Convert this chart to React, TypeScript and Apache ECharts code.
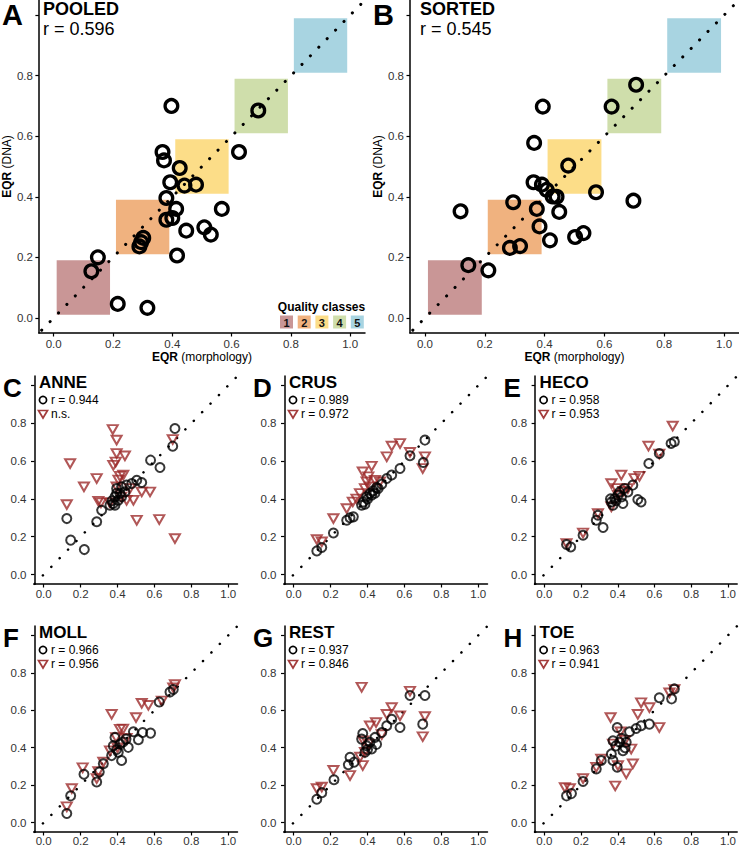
import React, { useEffect, useRef } from 'react';
import * as echarts from 'echarts';

const FONT = "'Liberation Sans', Arial, Helvetica, sans-serif";

// ---- ticks / scales ----
const xTickValues = [0, 0.2, 0.4, 0.6, 0.8, 1.0];
const yTickValues = [0, 0.2, 0.4, 0.6, 0.8, 1.0];
const yLabelValues = [0, 0.2, 0.4, 0.6, 0.8];
const axisMin = -0.05;
const axisMax = 1.05;
const identityLine = [[-0.05, -0.05], [1.05, 1.05]];

// ---- quality classes ----
const qualityClasses = ['1', '2', '3', '4', '5'];
const classColors = ['#c99696', '#f0b27f', '#fcdd88', '#cfdeab', '#a8d4e1'];
const classBounds = [[0.01, 0.19], [0.21, 0.39], [0.41, 0.59], [0.61, 0.79], [0.81, 0.99]];

// ---- panel A / B data ----
const pooledTitle = 'POOLED';
const pooledR = 'r = 0.596';
const pooledPoints = [
  [0.397, 0.70], [0.69, 0.685], [0.625, 0.548], [0.367, 0.548], [0.372, 0.52],
  [0.425, 0.495], [0.393, 0.448], [0.441, 0.437], [0.48, 0.44], [0.38, 0.396],
  [0.413, 0.36], [0.567, 0.36], [0.38, 0.324], [0.40, 0.33], [0.447, 0.288],
  [0.508, 0.299], [0.53, 0.275], [0.302, 0.264], [0.289, 0.236], [0.295, 0.25],
  [0.416, 0.206], [0.149, 0.20], [0.127, 0.154], [0.216, 0.046], [0.316, 0.033],
];
const sortedTitle = 'SORTED';
const sortedR = 'r = 0.545';
const sortedPoints = [
  [0.394, 0.698], [0.706, 0.77], [0.624, 0.698], [0.365, 0.578], [0.479, 0.503],
  [0.572, 0.415], [0.697, 0.387], [0.363, 0.448], [0.391, 0.44], [0.407, 0.423],
  [0.427, 0.401], [0.44, 0.40], [0.295, 0.382], [0.119, 0.352], [0.374, 0.36],
  [0.449, 0.35], [0.383, 0.302], [0.502, 0.267], [0.53, 0.28], [0.418, 0.256],
  [0.284, 0.231], [0.318, 0.237], [0.145, 0.174], [0.212, 0.157],
];

// ---- taxon panels ----
const taxaLetters = ['C', 'D', 'E', 'F', 'G', 'H'];
const taxaNames = ['ANNE', 'CRUS', 'HECO', 'MOLL', 'REST', 'TOE'];
const circleLabels = ['r = 0.944', 'r = 0.989', 'r = 0.958', 'r = 0.966', 'r = 0.937', 'r = 0.963'];
const triangleLabels = ['n.s.', 'r = 0.972', 'r = 0.953', 'r = 0.956', 'r = 0.846', 'r = 0.941'];

const anneCircles = [
  [0.711, 0.772], [0.699, 0.679], [0.579, 0.605], [0.63, 0.566], [0.531, 0.487], [0.504, 0.499],
  [0.477, 0.481], [0.449, 0.473], [0.422, 0.464], [0.395, 0.455], [0.413, 0.429], [0.386, 0.411],
  [0.404, 0.393], [0.377, 0.376], [0.386, 0.367], [0.422, 0.411], [0.359, 0.367], [0.44, 0.437],
  [0.395, 0.43], [0.37, 0.39], [0.314, 0.34], [0.287, 0.279], [0.125, 0.296], [0.146, 0.182], [0.22, 0.132],
];
const anneTriangles = [
  [0.374, 0.767], [0.395, 0.711], [0.395, 0.64], [0.44, 0.628], [0.377, 0.578], [0.39, 0.595],
  [0.143, 0.587], [0.287, 0.508], [0.218, 0.464], [0.125, 0.37], [0.296, 0.388], [0.31, 0.38],
  [0.431, 0.526], [0.413, 0.52], [0.395, 0.464], [0.486, 0.393], [0.531, 0.437], [0.576, 0.437],
  [0.504, 0.287], [0.626, 0.291], [0.711, 0.19], [0.699, 0.714], [0.449, 0.393], [0.359, 0.38],
  [0.467, 0.455], [0.405, 0.5], [0.42, 0.41],
];
const crusCircles = [
  [0.711, 0.711], [0.63, 0.628], [0.702, 0.593], [0.576, 0.561], [0.531, 0.526], [0.504, 0.508],
  [0.477, 0.478], [0.458, 0.455], [0.431, 0.443], [0.413, 0.429], [0.395, 0.411], [0.377, 0.384],
  [0.386, 0.372], [0.368, 0.367], [0.323, 0.305], [0.287, 0.287], [0.305, 0.30], [0.422, 0.42],
  [0.449, 0.46], [0.215, 0.22], [0.152, 0.143], [0.125, 0.125], [0.40, 0.40], [0.44, 0.43],
];
const crusTriangles = [
  [0.576, 0.693], [0.531, 0.679], [0.504, 0.623], [0.63, 0.646], [0.711, 0.623], [0.699, 0.561],
  [0.374, 0.543], [0.422, 0.573], [0.404, 0.517], [0.386, 0.455], [0.44, 0.499], [0.467, 0.49],
  [0.32, 0.384], [0.287, 0.349], [0.215, 0.296], [0.125, 0.185], [0.152, 0.173], [0.34, 0.40],
  [0.359, 0.429], [0.413, 0.464], [0.395, 0.49],
];
const hecoCircles = [
  [0.708, 0.702], [0.69, 0.693], [0.626, 0.64], [0.569, 0.587], [0.482, 0.473], [0.455, 0.437],
  [0.527, 0.384], [0.509, 0.397], [0.428, 0.376], [0.401, 0.42], [0.383, 0.402], [0.365, 0.384],
  [0.374, 0.367], [0.41, 0.437], [0.437, 0.455], [0.283, 0.287], [0.292, 0.314], [0.32, 0.249],
  [0.211, 0.208], [0.121, 0.159], [0.144, 0.146], [0.36, 0.40], [0.42, 0.41], [0.39, 0.39],
];
const hecoTriangles = [
  [0.699, 0.785], [0.567, 0.679], [0.419, 0.526], [0.365, 0.481], [0.518, 0.52], [0.491, 0.508],
  [0.455, 0.455], [0.392, 0.455], [0.365, 0.358], [0.292, 0.323], [0.211, 0.22], [0.121, 0.164],
  [0.626, 0.637], [0.40, 0.42], [0.43, 0.44],
];
const mollCircles = [
  [0.702, 0.711], [0.684, 0.697], [0.626, 0.644], [0.579, 0.478], [0.536, 0.481], [0.513, 0.443],
  [0.486, 0.485], [0.458, 0.402], [0.446, 0.446], [0.386, 0.455], [0.377, 0.411], [0.404, 0.376],
  [0.422, 0.332], [0.368, 0.358], [0.323, 0.314], [0.301, 0.27], [0.287, 0.217], [0.218, 0.258],
  [0.146, 0.143], [0.125, 0.049], [0.413, 0.42], [0.395, 0.39], [0.43, 0.43],
];
const mollTriangles = [
  [0.711, 0.737], [0.368, 0.578], [0.531, 0.637], [0.567, 0.626], [0.5, 0.561], [0.413, 0.499],
  [0.392, 0.455], [0.449, 0.45], [0.359, 0.384], [0.323, 0.323], [0.296, 0.273], [0.211, 0.293],
  [0.287, 0.235], [0.152, 0.182], [0.125, 0.085], [0.64, 0.65], [0.702, 0.72], [0.43, 0.50], [0.40, 0.40],
];
const restCircles = [
  [0.711, 0.679], [0.63, 0.679], [0.699, 0.526], [0.576, 0.508], [0.531, 0.552], [0.504, 0.517],
  [0.477, 0.481], [0.44, 0.455], [0.374, 0.476], [0.368, 0.446], [0.395, 0.411], [0.422, 0.393],
  [0.386, 0.376], [0.305, 0.349], [0.296, 0.309], [0.327, 0.323], [0.218, 0.229], [0.152, 0.16],
  [0.125, 0.125], [0.413, 0.429], [0.449, 0.418], [0.40, 0.39],
];
const restTriangles = [
  [0.368, 0.723], [0.63, 0.702], [0.531, 0.614], [0.504, 0.578], [0.446, 0.534], [0.413, 0.517],
  [0.711, 0.566], [0.699, 0.459], [0.576, 0.57], [0.377, 0.437], [0.386, 0.376], [0.374, 0.305],
  [0.305, 0.252], [0.215, 0.279], [0.125, 0.182], [0.152, 0.19], [0.404, 0.42], [0.477, 0.47], [0.36, 0.35],
];
const toeCircles = [
  [0.708, 0.714], [0.693, 0.661], [0.626, 0.667], [0.572, 0.526], [0.527, 0.517], [0.5, 0.503],
  [0.464, 0.485], [0.397, 0.508], [0.374, 0.437], [0.41, 0.429], [0.446, 0.429], [0.428, 0.384],
  [0.365, 0.367], [0.374, 0.332], [0.397, 0.296], [0.31, 0.332], [0.283, 0.287], [0.211, 0.22],
  [0.148, 0.155], [0.121, 0.143], [0.39, 0.41], [0.42, 0.45], [0.44, 0.40],
];
const toeTriangles = [
  [0.361, 0.561], [0.527, 0.64], [0.572, 0.614], [0.509, 0.578], [0.626, 0.508], [0.708, 0.711],
  [0.681, 0.693], [0.415, 0.485], [0.473, 0.393], [0.482, 0.314], [0.446, 0.261], [0.386, 0.196],
  [0.401, 0.305], [0.31, 0.34], [0.283, 0.296], [0.211, 0.235], [0.112, 0.187], [0.139, 0.182],
  [0.374, 0.42], [0.44, 0.44],
];
const taxaCircles = [anneCircles, crusCircles, hecoCircles, mollCircles, restCircles, toeCircles];
const taxaTriangles = [anneTriangles, crusTriangles, hecoTriangles, mollTriangles, restTriangles, toeTriangles];

// ---- styling ----
const TRI_COLOR = 'rgba(155,40,40,0.78)';
const CIRC_COLOR = 'rgba(0,0,0,0.78)';
const TRI_PATH = 'path://M0,0L10,0L5,8.66Z';

function buildOption() {
  const grids: any[] = [];
  const xAxes: any[] = [];
  const yAxes: any[] = [];
  const series: any[] = [];
  const graphics: any[] = [];

  const big = [
    { left: 35, top: 0, title: pooledTitle, r: pooledR, pts: pooledPoints, letter: 'A', legend: true, yGap: 20 },
    { left: 410, top: 0, title: sortedTitle, r: sortedR, pts: sortedPoints, letter: 'B', legend: false, yGap: 23 },
  ];

  const axisBase = (gi: number, small: boolean, isX: boolean, lastRow: boolean) => ({
    type: 'value',
    gridIndex: gi,
    min: axisMin,
    max: axisMax,
    axisLine: { show: true, onZero: false, lineStyle: { color: '#000', width: 1.5 } },
    axisTick: {
      show: true,
      customValues: isX ? xTickValues : yTickValues,
      length: 3.5,
      lineStyle: { color: '#000', width: 1.2 },
    },
    axisLabel: {
      customValues: isX ? xTickValues : yLabelValues,
      formatter: (v: number) => v.toFixed(1),
      color: '#333',
      fontSize: 11.5,
      fontFamily: FONT,
      margin: isX ? (small ? (lastRow ? 3 : 4) : 5) : small ? 8 : 6,
    },
    splitLine: { show: false },
  });

  big.forEach((p, i) => {
    grids.push({ left: p.left, top: p.top, width: 330, height: 333 });
    xAxes.push({
      ...axisBase(i, false, true, false),
      name: '{b|EQR} (morphology)',
      nameLocation: 'middle',
      nameGap: 18,
      nameTextStyle: {
        fontSize: 12, color: '#000', fontFamily: FONT,
        rich: { b: { fontSize: 12, fontWeight: 'bold', color: '#000', fontFamily: FONT } },
      },
    });
    yAxes.push({
      ...axisBase(i, false, false, false),
      name: '{b|EQR} (DNA)',
      nameLocation: 'middle',
      nameGap: p.yGap,
      nameTextStyle: {
        fontSize: 12, color: '#000', fontFamily: FONT,
        rich: { b: { fontSize: 12, fontWeight: 'bold', color: '#000', fontFamily: FONT } },
      },
    });
    series.push({
      type: 'custom',
      xAxisIndex: i,
      yAxisIndex: i,
      z: 1,
      silent: true,
      data: classBounds.map((b, k) => [b[0], b[0], b[1], b[1], k]),
      encode: { x: [0, 2], y: [1, 3] },
      renderItem: (params: any, api: any) => {
        const p0 = api.coord([api.value(0), api.value(1)]);
        const p1 = api.coord([api.value(2), api.value(3)]);
        return {
          type: 'rect',
          shape: { x: p0[0], y: p1[1], width: p1[0] - p0[0], height: p0[1] - p1[1] },
          style: { fill: classColors[api.value(4)] },
        };
      },
    });
    series.push({
      type: 'line',
      xAxisIndex: i,
      yAxisIndex: i,
      z: 2,
      silent: true,
      showSymbol: false,
      data: identityLine,
      lineStyle: { color: '#000', width: 3, type: [0.1, 11.9], cap: 'round', dashOffset: -4 },
    });
    series.push({
      type: 'scatter',
      xAxisIndex: i,
      yAxisIndex: i,
      z: 3,
      silent: true,
      symbol: 'circle',
      symbolSize: 12.7,
      data: p.pts,
      itemStyle: { color: 'rgba(0,0,0,0)', borderColor: '#000', borderWidth: 3.3, opacity: 1 },
    });
    const lx = i === 0 ? 2 : 373;
    const tx = i === 0 ? 43 : 420;
    graphics.push({ type: 'text', x: lx, y: 15, style: { text: p.letter, font: `bold 29px ${FONT}`, fill: '#000', verticalAlign: 'middle', align: 'left' } });
    graphics.push({ type: 'text', x: tx, y: 8.5, style: { text: p.title, font: `bold 18px ${FONT}`, fill: '#000', verticalAlign: 'middle', align: 'left' } });
    graphics.push({ type: 'text', x: tx, y: 29, style: { text: p.r, font: `18px ${FONT}`, fill: '#000', verticalAlign: 'middle', align: 'left' } });
  });

  // Quality class legend (panel A)
  graphics.push({ type: 'text', x: 321.5, y: 307, style: { text: 'Quality classes', font: `bold 12px ${FONT}`, fill: '#000', verticalAlign: 'middle', align: 'center' } });
  qualityClasses.forEach((q, k) => {
    const bx = 280 + k * 17.7;
    graphics.push({ type: 'rect', shape: { x: bx, y: 315.5, width: 13, height: 13 }, style: { fill: classColors[k] } });
    graphics.push({ type: 'text', x: bx + 6.5, y: 322.5, style: { text: q, font: `bold 11px ${FONT}`, fill: '#111', verticalAlign: 'middle', align: 'center' } });
  });

  // Taxon panels
  const colDx = [0, 250, 500.6];
  const rowDy = [0, 250];
  taxaNames.forEach((name, t) => {
    const col = t % 3;
    const row = Math.floor(t / 3);
    const dx = colDx[col];
    const dy = rowDy[row];
    const gi = 2 + t;
    grids.push({ left: 34.5 + dx, top: 376 + dy, width: 203, height: 208 });
    xAxes.push(axisBase(gi, true, true, row === 1));
    yAxes.push(axisBase(gi, true, false, row === 1));
    series.push({
      type: 'line',
      xAxisIndex: gi,
      yAxisIndex: gi,
      z: 2,
      silent: true,
      showSymbol: false,
      data: identityLine,
      lineStyle: { color: '#000', width: 2.5, type: [0.1, 11.9], cap: 'round', dashOffset: 0 },
    });
    series.push({
      type: 'scatter',
      xAxisIndex: gi,
      yAxisIndex: gi,
      z: 3,
      silent: true,
      symbol: TRI_PATH,
      symbolSize: [10, 8.7],
      data: taxaTriangles[t],
      itemStyle: { color: 'rgba(0,0,0,0)', borderColor: TRI_COLOR, borderWidth: 2, opacity: 1 },
    });
    series.push({
      type: 'scatter',
      xAxisIndex: gi,
      yAxisIndex: gi,
      z: 4,
      silent: true,
      symbol: 'circle',
      symbolSize: 9,
      data: taxaCircles[t],
      itemStyle: { color: 'rgba(0,0,0,0)', borderColor: CIRC_COLOR, borderWidth: 2, opacity: 1 },
    });
    graphics.push({ type: 'text', x: 3 + dx, y: 387.5 + dy, style: { text: taxaLetters[t], font: `bold 26px ${FONT}`, fill: '#000', verticalAlign: 'middle', align: 'left' } });
    graphics.push({ type: 'text', x: 39 + dx, y: 382 + dy, style: { text: name, font: `bold 17px ${FONT}`, fill: '#000', verticalAlign: 'middle', align: 'left' } });
    graphics.push({ type: 'circle', shape: { cx: 43 + dx, cy: 400 + dy, r: 3.6 }, style: { fill: 'none', stroke: '#000', lineWidth: 1.7 } });
    graphics.push({ type: 'text', x: 51 + dx, y: 400 + dy, style: { text: circleLabels[t], font: `12px ${FONT}`, fill: '#000', verticalAlign: 'middle', align: 'left' } });
    graphics.push({ type: 'polygon', shape: { points: [[38.5 + dx, 410.5 + dy], [47.5 + dx, 410.5 + dy], [43 + dx, 418 + dy]] }, style: { fill: 'none', stroke: '#a33c3c', lineWidth: 1.7 } });
    graphics.push({ type: 'text', x: 51 + dx, y: 414 + dy, style: { text: triangleLabels[t], font: `12px ${FONT}`, fill: '#000', verticalAlign: 'middle', align: 'left' } });
  });

  return {
    animation: false,
    backgroundColor: '#fff',
    textStyle: { fontFamily: FONT },
    grid: grids,
    xAxis: xAxes,
    yAxis: yAxes,
    series,
    graphic: graphics,
  };
}

export default function App() {
  const ref = useRef<HTMLDivElement>(null);
  useEffect(() => {
    if (!ref.current) return;
    const chart = echarts.init(ref.current, undefined, { renderer: 'svg' });
    chart.setOption(buildOption() as any);
    return () => chart.dispose();
  }, []);
  return <div ref={ref} style={{ position: 'absolute', left: 0, top: 0, width: 739, height: 847 }} />;
}
